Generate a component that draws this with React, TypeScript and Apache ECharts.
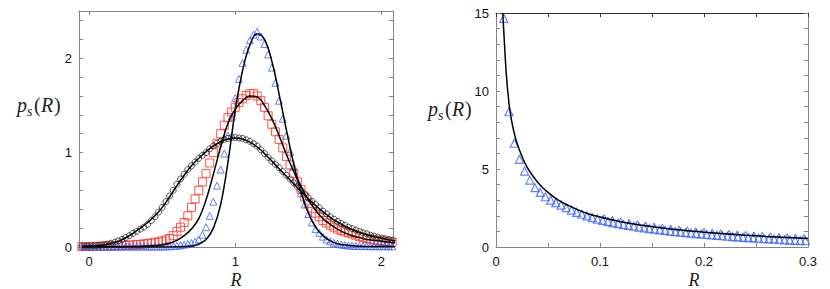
import React, { useEffect, useRef } from "react";
import * as echarts from "echarts";

// ---------- Left panel data ----------
const R_GRID = [
  -0.05, -0.025, 0, 0.025, 0.05, 0.075, 0.1, 0.125, 0.15, 0.175, 0.2, 0.225, 0.25, 0.275, 0.3, 0.325,
  0.35, 0.375, 0.4, 0.425, 0.45, 0.475, 0.5, 0.525, 0.55, 0.575, 0.6, 0.625, 0.65, 0.675, 0.7, 0.725,
  0.75, 0.775, 0.8, 0.825, 0.85, 0.875, 0.9, 0.925, 0.95, 0.975, 1, 1.025, 1.05, 1.075, 1.1, 1.125,
  1.15, 1.175, 1.2, 1.225, 1.25, 1.275, 1.3, 1.325, 1.35, 1.375, 1.4, 1.425, 1.45, 1.475, 1.5, 1.525,
  1.55, 1.575, 1.6, 1.625, 1.65, 1.675, 1.7, 1.725, 1.75, 1.775, 1.8, 1.825, 1.85, 1.875, 1.9, 1.925,
  1.95, 1.975, 2, 2.025, 2.05, 2.075,
];

const CIRCLES = [
  0.008, 0.008, 0.01, 0.012, 0.015, 0.018, 0.024, 0.03, 0.04, 0.05, 0.065, 0.08, 0.1, 0.12, 0.145, 0.165,
  0.19, 0.21, 0.24, 0.28, 0.32, 0.37, 0.42, 0.48, 0.54, 0.6, 0.665, 0.72, 0.77, 0.82, 0.86, 0.9,
  0.94, 0.97, 1.0, 1.04, 1.07, 1.1, 1.12, 1.14, 1.15, 1.16, 1.16, 1.155, 1.15, 1.135, 1.12, 1.095,
  1.07, 1.03, 0.99, 0.95, 0.91, 0.875, 0.84, 0.8, 0.76, 0.72, 0.68, 0.64, 0.6, 0.56, 0.52, 0.485,
  0.45, 0.415, 0.38, 0.35, 0.32, 0.295, 0.27, 0.25, 0.23, 0.21, 0.195, 0.18, 0.165, 0.15, 0.14, 0.125,
  0.115, 0.105, 0.095, 0.088, 0.08, 0.072,
];

const SQUARES = [
  0.005, 0.005, 0.005, 0.006, 0.007, 0.008, 0.009, 0.01, 0.011, 0.012, 0.014, 0.016, 0.018, 0.02, 0.022, 0.025,
  0.028, 0.032, 0.037, 0.042, 0.048, 0.055, 0.063, 0.075, 0.09, 0.12, 0.165, 0.21, 0.26, 0.33, 0.42, 0.51,
  0.6, 0.69, 0.78, 0.89, 1.0, 1.1, 1.2, 1.29, 1.37, 1.43, 1.48, 1.53, 1.57, 1.605, 1.625, 1.625,
  1.6, 1.55, 1.48, 1.39, 1.3, 1.22, 1.14, 1.05, 0.96, 0.87, 0.78, 0.69, 0.61, 0.53, 0.46, 0.41,
  0.36, 0.32, 0.28, 0.255, 0.23, 0.21, 0.19, 0.175, 0.16, 0.15, 0.14, 0.125, 0.11, 0.1, 0.09, 0.082,
  0.075, 0.07, 0.065, 0.06, 0.056, 0.052,
];

const TRIANGLES = [
  0.005, 0.005, 0.005, 0.005, 0.005, 0.005, 0.005, 0.005, 0.005, 0.005, 0.005, 0.005, 0.005, 0.005, 0.005, 0.005,
  0.005, 0.005, 0.005, 0.005, 0.005, 0.005, 0.005, 0.006, 0.008, 0.01, 0.013, 0.018, 0.025, 0.032, 0.042, 0.058,
  0.08, 0.13, 0.21, 0.33, 0.48, 0.65, 0.82, 0.99, 1.18, 1.38, 1.58, 1.78, 1.95, 2.09, 2.19, 2.25,
  2.28, 2.23, 2.15, 2.04, 1.9, 1.74, 1.55, 1.36, 1.18, 1.01, 0.85, 0.7, 0.57, 0.45, 0.35, 0.26,
  0.19, 0.15, 0.11, 0.08, 0.06, 0.045, 0.035, 0.027, 0.02, 0.016, 0.013, 0.011, 0.01, 0.01, 0.009, 0.009,
  0.008, 0.008, 0.008, 0.008, 0.008, 0.008,
];

const L_GRID = [
  -0.05, 0, 0.05, 0.1, 0.15, 0.2, 0.25, 0.3, 0.35, 0.4, 0.45, 0.5, 0.55, 0.6, 0.65, 0.7, 0.75, 0.8, 0.85, 0.9,
  0.95, 1, 1.05, 1.1, 1.15, 1.2, 1.25, 1.3, 1.35, 1.4, 1.45, 1.5, 1.55, 1.6, 1.65, 1.7, 1.75, 1.8, 1.85, 1.9,
  1.95, 2, 2.05, 2.1,
];

const FIT_CIRCLES = [
  0.008, 0.01, 0.014, 0.022, 0.038, 0.062, 0.098, 0.145, 0.2, 0.26, 0.33, 0.42, 0.53, 0.65, 0.76, 0.86, 0.94, 1.01, 1.07, 1.115,
  1.145, 1.155, 1.145, 1.11, 1.06, 0.99, 0.91, 0.83, 0.75, 0.67, 0.59, 0.51, 0.44, 0.375, 0.315, 0.265, 0.22, 0.185, 0.155, 0.13,
  0.11, 0.092, 0.078, 0.066,
];

const FIT_SQUARES = [
  0.002, 0.002, 0.002, 0.002, 0.003, 0.003, 0.004, 0.005, 0.007, 0.01, 0.016, 0.025, 0.04, 0.07, 0.12, 0.19, 0.3, 0.5, 0.77, 1.06,
  1.31, 1.46, 1.55, 1.6, 1.59, 1.5, 1.36, 1.18, 0.98, 0.8, 0.64, 0.5, 0.39, 0.3, 0.24, 0.19, 0.15, 0.12, 0.1, 0.08,
  0.07, 0.06, 0.05, 0.045,
];

const FIT_TRIANGLES = [
  0.001, 0.001, 0.001, 0.001, 0.001, 0.001, 0.001, 0.001, 0.001, 0.001, 0.001, 0.001, 0.001, 0.002, 0.004, 0.01, 0.03, 0.08, 0.2, 0.45,
  0.9, 1.45, 1.87, 2.14, 2.26, 2.2, 1.97, 1.62, 1.24, 0.88, 0.58, 0.36, 0.21, 0.12, 0.065, 0.035, 0.02, 0.012, 0.008, 0.006,
  0.005, 0.004, 0.004, 0.003,
];

const LEFT_X_LABELS = [0, 1, 2];
const LEFT_Y_LABELS = [0, 1, 2];
const LEFT_Y_TICKS = [0, 0.2, 0.4, 0.6, 0.8, 1, 1.2, 1.4, 1.6, 1.8, 2, 2.2, 2.4];

// ---------- Right panel data ----------
const RR_X = [
  0.0075, 0.0125, 0.0175, 0.0225, 0.0275, 0.0325, 0.0375, 0.0425, 0.0475, 0.0525, 0.0575, 0.0625, 0.0675, 0.0725, 0.0775,
  0.0825, 0.0875, 0.0925, 0.0975, 0.1025, 0.1075, 0.1125, 0.1175, 0.1225, 0.1275, 0.1325, 0.1375, 0.1425, 0.1475, 0.1525,
  0.1575, 0.1625, 0.1675, 0.1725, 0.1775, 0.1825, 0.1875, 0.1925, 0.1975, 0.2025, 0.2075, 0.2125, 0.2175, 0.2225, 0.2275,
  0.2325, 0.2375, 0.2425, 0.2475, 0.2525, 0.2575, 0.2625, 0.2675, 0.2725, 0.2775, 0.2825, 0.2875, 0.2925, 0.2975,
];
const RR_P = [
  14.66, 8.67, 6.65, 5.62, 4.87, 4.29, 3.8, 3.5, 3.22, 3.01, 2.84, 2.69, 2.52, 2.37, 2.22,
  2.1, 1.99, 1.88, 1.79, 1.71, 1.63, 1.56, 1.5, 1.44, 1.38, 1.33, 1.28, 1.23, 1.18, 1.14,
  1.1, 1.06, 1.02, 0.98, 0.95, 0.92, 0.89, 0.86, 0.83, 0.8, 0.77, 0.74, 0.72, 0.69, 0.67,
  0.65, 0.62, 0.6, 0.58, 0.56, 0.54, 0.52, 0.5, 0.48, 0.46, 0.44, 0.43, 0.41, 0.4,
];

const RS_X = [
  0.104, 0.112, 0.12, 0.128, 0.136, 0.144, 0.152, 0.16, 0.168, 0.176, 0.184, 0.192, 0.2, 0.208, 0.216, 0.224,
  0.232, 0.24, 0.248, 0.256, 0.264, 0.272, 0.28, 0.288, 0.296,
];
const RS_P = [
  1.95, 1.84, 1.74, 1.65, 1.56, 1.48, 1.41, 1.34, 1.28, 1.22, 1.16, 1.11, 1.06, 1.02, 0.98, 0.94,
  0.9, 0.87, 0.84, 0.81, 0.78, 0.75, 0.72, 0.7, 0.68,
];

const FIT_R_X = [
  0.0065, 0.0075, 0.01, 0.0125, 0.015, 0.0175, 0.02, 0.025, 0.03, 0.035, 0.04, 0.045, 0.05, 0.06, 0.07, 0.08,
  0.09, 0.1, 0.12, 0.14, 0.16, 0.18, 0.2, 0.22, 0.24, 0.26, 0.28, 0.3,
];
const FIT_R_P = [
  15.0, 13.8, 11.0, 9.2, 8.1, 7.3, 6.7, 5.8, 5.1, 4.6, 4.15, 3.8, 3.5, 3.0, 2.65, 2.35,
  2.1, 1.92, 1.62, 1.4, 1.22, 1.07, 0.95, 0.85, 0.76, 0.68, 0.61, 0.55,
];

const RIGHT_X_TICKS = [0, 0.05, 0.1, 0.15, 0.2, 0.25, 0.3];
const RIGHT_X_LABELS = [0, 0.1, 0.2, 0.3];
const RIGHT_Y_TICKS = [0, 1, 2, 3, 4, 5, 6, 7, 8, 9, 10, 11, 12, 13, 14, 15];
const RIGHT_Y_LABELS = [0, 5, 10, 15];

const pairs = (xs: number[], ys: number[]) => xs.map((x, i) => [x, ys[i]]);

const SANS = "'Liberation Sans', Arial, Helvetica, sans-serif";
const SERIF = "'Liberation Serif', 'DejaVu Serif', serif";
const FRAME = "#858585";

function axis(
  gridIndex: number,
  position: string,
  min: number,
  max: number,
  ticks: number[],
  labels: number[] | null,
  color: string,
  fmt?: (v: number) => string
) {
  return {
    type: "value",
    gridIndex,
    position,
    min,
    max,
    axisLine: { show: true, onZero: false, lineStyle: { color, width: 1 } },
    axisTick: { show: true, inside: true, length: 4, customValues: ticks, lineStyle: { color, width: 1 } },
    axisLabel: labels
      ? {
          show: true,
          customValues: labels,
          color: "#111",
          fontSize: 13,
          fontFamily: SANS,
          margin: position === "left" ? 7 : 8,
          formatter: fmt || ((v: number) => String(v)),
        }
      : { show: false },
    splitLine: { show: false },
  };
}

function psLabel(x: number, y: number) {
  return {
    type: "group",
    x,
    y,
    silent: true,
    children: [
      { type: "text", x: 0, y: 0, style: { text: "p", fontSize: 20, fontStyle: "italic", fontFamily: SERIF, fill: "#222", textVerticalAlign: "top" } },
      { type: "text", x: 10, y: 9, style: { text: "s", fontSize: 14, fontStyle: "italic", fontFamily: SERIF, fill: "#222", textVerticalAlign: "top" } },
      { type: "text", x: 17, y: 0, style: { text: "(", fontSize: 20, fontFamily: SERIF, fill: "#222", textVerticalAlign: "top" } },
      { type: "text", x: 24, y: 0, style: { text: "R", fontSize: 20, fontStyle: "italic", fontFamily: SERIF, fill: "#222", textVerticalAlign: "top" } },
      { type: "text", x: 37, y: 0, style: { text: ")", fontSize: 20, fontFamily: SERIF, fill: "#222", textVerticalAlign: "top" } },
    ],
  };
}

function rLabel(x: number, y: number) {
  return {
    type: "text",
    x,
    y,
    silent: true,
    style: { text: "R", fontSize: 18, fontStyle: "italic", fontFamily: SERIF, fill: "#222", textAlign: "center", textVerticalAlign: "middle" },
  };
}

export default function App() {
  const ref = useRef<HTMLDivElement>(null);

  useEffect(() => {
    if (!ref.current) return;
    const chart = echarts.init(ref.current, undefined, { renderer: "svg" });
    const fmtR = (v: number) => (v === 0 ? "0" : v.toFixed(1));

    const option: any = {
      animation: false,
      backgroundColor: "#fff",
      grid: [
        { left: 79, top: 11, width: 314, height: 236 },
        { left: 496, top: 13, width: 312, height: 234 },
      ],
      xAxis: [
        axis(0, "bottom", -0.07, 2.08, LEFT_X_LABELS, LEFT_X_LABELS, FRAME),
        axis(0, "top", -0.07, 2.08, LEFT_X_LABELS, null, FRAME),
        axis(1, "bottom", 0, 0.3, RIGHT_X_TICKS, RIGHT_X_LABELS, FRAME, fmtR),
        axis(1, "top", 0, 0.3, RIGHT_X_TICKS, null, "#333"),
      ],
      yAxis: [
        axis(0, "left", 0, 2.5, LEFT_Y_TICKS, LEFT_Y_LABELS, FRAME),
        axis(0, "right", 0, 2.5, LEFT_Y_TICKS, null, FRAME),
        axis(1, "left", 0, 15, RIGHT_Y_TICKS, RIGHT_Y_LABELS, FRAME),
        axis(1, "right", 0, 15, RIGHT_Y_TICKS, null, FRAME),
      ],
      series: [
        {
          type: "scatter",
          xAxisIndex: 0,
          yAxisIndex: 0,
          symbol: "rect",
          symbolSize: 8,
          data: pairs(R_GRID, SQUARES),
          itemStyle: { color: "rgba(0,0,0,0)", borderColor: "#ff3a28", borderWidth: 1, opacity: 0.85 },
          silent: true,
          z: 2,
        },
        {
          type: "scatter",
          xAxisIndex: 0,
          yAxisIndex: 0,
          symbol: "triangle",
          symbolSize: 7,
          data: pairs(R_GRID, TRIANGLES),
          itemStyle: { color: "rgba(0,0,0,0)", borderColor: "#3b62ff", borderWidth: 1 },
          silent: true,
          z: 2,
        },
        {
          type: "scatter",
          xAxisIndex: 0,
          yAxisIndex: 0,
          symbol: "circle",
          symbolSize: 6,
          data: pairs(R_GRID, CIRCLES),
          itemStyle: { color: "rgba(0,0,0,0)", borderColor: "#2a2a2a", borderWidth: 1 },
          silent: true,
          z: 3,
        },
        ...[FIT_CIRCLES, FIT_SQUARES, FIT_TRIANGLES].map((ys) => ({
          type: "line",
          xAxisIndex: 0,
          yAxisIndex: 0,
          data: pairs(L_GRID, ys),
          showSymbol: false,
          smooth: 0.4,
          lineStyle: { color: "#000", width: 1.5 },
          silent: true,
          z: 5,
        })),
        {
          type: "scatter",
          xAxisIndex: 2,
          yAxisIndex: 2,
          symbol: "triangle",
          symbolSize: 8,
          data: pairs(RR_X, RR_P),
          itemStyle: { color: "rgba(0,0,0,0)", borderColor: "#3b62ff", borderWidth: 1.2 },
          silent: true,
          z: 2,
        },
        {
          type: "scatter",
          xAxisIndex: 2,
          yAxisIndex: 2,
          symbol: "triangle",
          symbolSize: 4,
          data: pairs(RS_X, RS_P),
          itemStyle: { color: "rgba(0,0,0,0)", borderColor: "#2f55f0", borderWidth: 1 },
          silent: true,
          z: 2,
        },
        {
          type: "line",
          xAxisIndex: 2,
          yAxisIndex: 2,
          data: pairs(FIT_R_X, FIT_R_P),
          showSymbol: false,
          smooth: 0.4,
          lineStyle: { color: "#000", width: 1.5 },
          silent: true,
          z: 5,
        },
      ],
      graphic: [psLabel(17, 95), psLabel(428, 99), rLabel(236, 280), rLabel(694, 280)],
    };

    chart.setOption(option);
    return () => chart.dispose();
  }, []);

  return (
    <div
      ref={ref}
      style={{ position: "fixed", left: 0, top: 0, width: 830, height: 289, background: "#fff" }}
    />
  );
}
